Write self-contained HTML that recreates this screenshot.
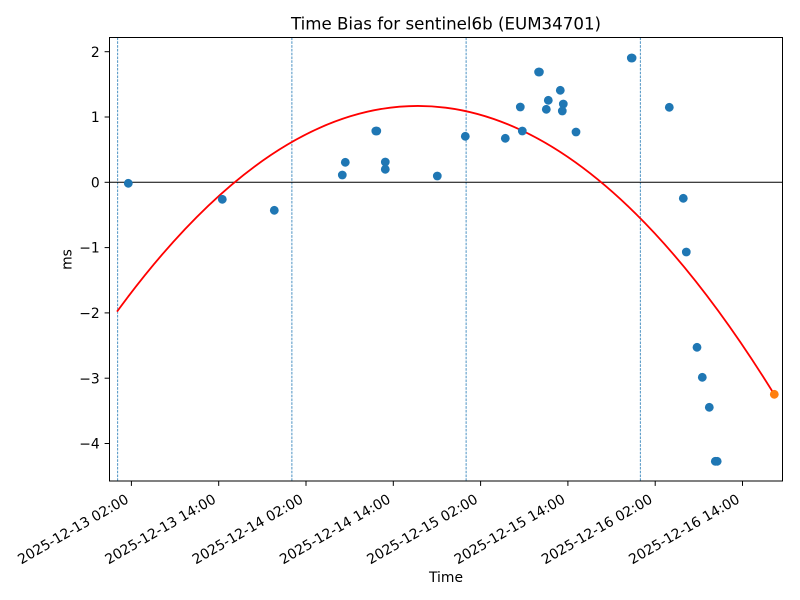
<!DOCTYPE html>
<html>
<head>
<meta charset="utf-8">
<style>
  html, body { margin: 0; padding: 0; background: #fff; }
  svg { display: block; }
  text { font-family: "DejaVu Sans", "Liberation Sans", sans-serif; fill: #000; }
</style>
</head>
<body>
<svg width="800" height="600" viewBox="0 0 800 600" xmlns="http://www.w3.org/2000/svg">
  <rect x="0" y="0" width="800" height="600" fill="#fff"/>

  <!-- vertical dashed lines -->
  <g stroke="#1f77b4" stroke-width="0.8" stroke-dasharray="2.6 1.2">
    <line x1="117.7" y1="37.5" x2="117.7" y2="481"/>
    <line x1="291.9" y1="37.5" x2="291.9" y2="481"/>
    <line x1="466.1" y1="37.5" x2="466.1" y2="481"/>
    <line x1="640.3" y1="37.5" x2="640.3" y2="481"/>
  </g>

  <!-- zero line -->
  <line x1="109.5" y1="182.3" x2="782.5" y2="182.3" stroke="#000" stroke-width="1"/>

  <!-- fit curve -->
  <path d="M117,311.6 Q445.65,-137.7 774.3,394.5" fill="none" stroke="#ff0000" stroke-width="1.8"/>

  <!-- data points -->
  <g fill="#1f77b4">
    <circle cx="128.3" cy="183.3" r="4.4"/>
    <circle cx="222.3" cy="199.3" r="4.4"/>
    <circle cx="274.3" cy="210.3" r="4.4"/>
    <circle cx="342.3" cy="175" r="4.4"/>
    <circle cx="345.3" cy="162.3" r="4.4"/>
    <circle cx="375.8" cy="131" r="4.4"/>
    <circle cx="376.8" cy="131" r="4.4"/>
    <circle cx="385.3" cy="162" r="4.4"/>
    <circle cx="385.3" cy="169.3" r="4.4"/>
    <circle cx="437.3" cy="176" r="4.4"/>
    <circle cx="465.3" cy="136.3" r="4.4"/>
    <circle cx="505.3" cy="138.3" r="4.4"/>
    <circle cx="520.3" cy="107" r="4.4"/>
    <circle cx="522.3" cy="131" r="4.4"/>
    <circle cx="538.6" cy="72" r="4.4"/>
    <circle cx="539.4" cy="72" r="4.4"/>
    <circle cx="548.3" cy="100.3" r="4.4"/>
    <circle cx="546.3" cy="109.3" r="4.4"/>
    <circle cx="560.3" cy="90.3" r="4.4"/>
    <circle cx="563.3" cy="104" r="4.4"/>
    <circle cx="562.3" cy="111" r="4.4"/>
    <circle cx="576" cy="132" r="4.4"/>
    <circle cx="631.3" cy="58" r="4.4"/>
    <circle cx="632.1" cy="58" r="4.4"/>
    <circle cx="669.3" cy="107.3" r="4.4"/>
    <circle cx="683.3" cy="198.3" r="4.4"/>
    <circle cx="686.3" cy="252" r="4.4"/>
    <circle cx="697" cy="347.3" r="4.4"/>
    <circle cx="702.3" cy="377.3" r="4.4"/>
    <circle cx="709.3" cy="407.3" r="4.4"/>
    <circle cx="715.3" cy="461.3" r="4.4"/>
    <circle cx="717.2" cy="461.3" r="4.4"/>
  </g>
  <circle cx="774.3" cy="394.3" r="4.4" fill="#ff7f0e"/>

  <!-- spines -->
  <rect x="109.5" y="37.5" width="673" height="443.5" fill="none" stroke="#000" stroke-width="1"/>

  <!-- y ticks -->
  <g stroke="#000" stroke-width="1">
    <line x1="104.6" y1="51.7" x2="109.5" y2="51.7"/>
    <line x1="104.6" y1="117" x2="109.5" y2="117"/>
    <line x1="104.6" y1="182.3" x2="109.5" y2="182.3"/>
    <line x1="104.6" y1="247.6" x2="109.5" y2="247.6"/>
    <line x1="104.6" y1="312.9" x2="109.5" y2="312.9"/>
    <line x1="104.6" y1="378.2" x2="109.5" y2="378.2"/>
    <line x1="104.6" y1="443.5" x2="109.5" y2="443.5"/>
  </g>
  <g font-size="13.9" text-anchor="end">
    <text x="99.7" y="56.8">2</text>
    <text x="99.7" y="122.1">1</text>
    <text x="99.7" y="187.4">0</text>
    <text x="99.7" y="252.7">−1</text>
    <text x="99.7" y="318">−2</text>
    <text x="99.7" y="383.3">−3</text>
    <text x="99.7" y="448.6">−4</text>
  </g>

  <!-- x ticks -->
  <g stroke="#000" stroke-width="1">
    <line x1="131.4" y1="481" x2="131.4" y2="485.9"/>
    <line x1="218.7" y1="481" x2="218.7" y2="485.9"/>
    <line x1="306" y1="481" x2="306" y2="485.9"/>
    <line x1="393.3" y1="481" x2="393.3" y2="485.9"/>
    <line x1="480.6" y1="481" x2="480.6" y2="485.9"/>
    <line x1="567.9" y1="481" x2="567.9" y2="485.9"/>
    <line x1="655.2" y1="481" x2="655.2" y2="485.9"/>
    <line x1="742.5" y1="481" x2="742.5" y2="485.9"/>
  </g>
  <g font-size="13.9" text-anchor="end">
    <text transform="translate(129.6,502) rotate(-30)">2025-12-13 02:00</text>
    <text transform="translate(216.9,502) rotate(-30)">2025-12-13 14:00</text>
    <text transform="translate(304.2,502) rotate(-30)">2025-12-14 02:00</text>
    <text transform="translate(391.5,502) rotate(-30)">2025-12-14 14:00</text>
    <text transform="translate(478.8,502) rotate(-30)">2025-12-15 02:00</text>
    <text transform="translate(566.1,502) rotate(-30)">2025-12-15 14:00</text>
    <text transform="translate(653.4,502) rotate(-30)">2025-12-16 02:00</text>
    <text transform="translate(740.7,502) rotate(-30)">2025-12-16 14:00</text>
  </g>

  <!-- labels -->
  <text x="446" y="582" font-size="13.9" text-anchor="middle">Time</text>
  <text transform="translate(71.5,259.5) rotate(-90)" font-size="13.9" text-anchor="middle">ms</text>
  <text x="446" y="29.5" font-size="16.67" text-anchor="middle">Time Bias for sentinel6b (EUM34701)</text>
</svg>
</body>
</html>
